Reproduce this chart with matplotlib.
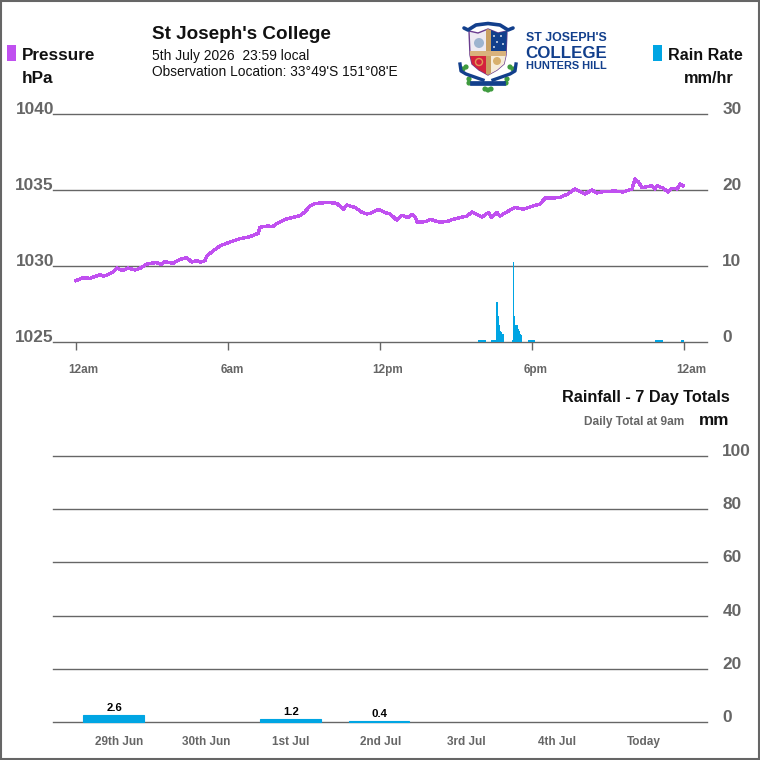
import matplotlib
matplotlib.use('Agg')
import matplotlib.pyplot as plt
from matplotlib.patches import Polygon, Rectangle, Circle
from matplotlib.transforms import ScaledTranslation

plt.rcParams['font.family'] = ['Liberation Sans', 'DejaVu Sans']

# barometer trace for the day
pressure_hours = [0.00, 0.28, 0.55, 0.95, 1.07, 1.18, 1.42, 1.62, 1.86, 2.05,
                  2.33, 2.53, 2.80, 3.16, 3.38, 3.51, 3.83, 4.11, 4.37, 4.57,
                  4.78, 4.90, 5.09, 5.17, 5.41, 5.68, 6.08, 6.47, 6.87, 7.19,
                  7.26, 7.58, 7.76, 7.94, 8.25, 8.53, 8.84, 9.04, 9.24, 9.44,
                  9.67, 9.91, 10.30, 10.55, 10.69, 11.01, 11.29, 11.48, 11.61, 11.96,
                  12.20, 12.40, 12.66, 12.87, 13.11, 13.25, 13.38, 13.47, 13.82, 13.98,
                  14.33, 14.63, 14.88, 15.44, 15.63, 16.02, 16.28, 16.41, 16.62, 16.74,
                  17.02, 17.33, 17.66, 18.04, 18.32, 18.52, 19.07, 19.42, 19.70, 20.09,
                  20.37, 20.56, 20.81, 21.28, 21.60, 21.95, 22.07, 22.19, 22.35, 22.74,
                  22.85, 22.94, 23.17, 23.38, 23.53, 23.73, 23.84, 23.96]
pressure_hpa = [1029.04, 1029.23, 1029.19, 1029.43, 1029.34, 1029.38, 1029.56, 1029.87, 1029.69, 1029.87,
                1029.74, 1029.85, 1030.13, 1030.23, 1030.11, 1030.28, 1030.18, 1030.44, 1030.55, 1030.26,
                1030.35, 1030.26, 1030.35, 1030.66, 1030.99, 1031.32, 1031.58, 1031.80, 1031.93, 1032.15,
                1032.55, 1032.63, 1032.59, 1032.81, 1033.06, 1033.19, 1033.31, 1033.57, 1033.95, 1034.12,
                1034.14, 1034.19, 1034.12, 1033.73, 1034.01, 1033.86, 1033.53, 1033.42, 1033.47, 1033.73,
                1033.52, 1033.42, 1033.03, 1033.34, 1033.18, 1033.40, 1033.24, 1032.88, 1032.92, 1033.07,
                1032.89, 1032.92, 1033.07, 1033.29, 1033.55, 1033.22, 1033.51, 1033.20, 1033.51, 1033.29,
                1033.57, 1033.86, 1033.73, 1033.95, 1034.08, 1034.47, 1034.49, 1034.74, 1035.07, 1034.74,
                1035.00, 1034.80, 1034.90, 1034.93, 1034.87, 1035.07, 1035.72, 1035.55, 1035.15, 1035.28,
                1035.07, 1035.28, 1035.13, 1034.87, 1035.11, 1035.07, 1035.39, 1035.28]

# rain rate as spans of constant rate
rain_start = [15.87, 16.38, 16.58, 16.66, 16.70, 16.74, 16.78, 16.82, 16.86, 17.21, 17.25, 17.29, 17.33,
              17.45, 17.49, 17.53, 17.57, 17.84, 22.86, 23.88]
rain_end = [16.19, 16.58, 16.66, 16.70, 16.74, 16.78, 16.82, 16.86, 16.90, 17.25, 17.29, 17.33, 17.45,
            17.49, 17.53, 17.57, 17.61, 18.12, 23.17, 24.00]
rain_rate = [0.3, 0.3, 5.3, 3.4, 2.3, 1.5, 1.3, 1.1, 1.0, 0.3, 10.5, 3.4, 2.3, 1.7, 1.4, 1.1, 0.9, 0.3, 0.3, 0.3]

hour_ticks = [0, 6, 12, 18, 24]
hour_labels = ['12am', '6am', '12pm', '6pm', '12am']
pressure_ticks = [1025, 1030, 1035, 1040]
rate_ticks = [0, 10, 20, 30]

days = ['29th Jun', '30th Jun', '1st Jul', '2nd Jul', '3rd Jul', '4th Jul', 'Today']
daily_rain = [2.6, 0, 1.2, 0.4, 0, 0, 0]
total_ticks = [0, 20, 40, 60, 80, 100]

PURPLE = '#c050f0'
BLUE = '#00a5e3'
GREY = '#666666'
NAVY = '#123f8c'
DPI = 100
SIZE = 760


def axes_px(left, top, right, bottom):
    return fig.add_axes([left / SIZE, 1 - bottom / SIZE, (right - left) / SIZE, (bottom - top) / SIZE])


def nudge(labels, dx, dy):
    # tick labels sit off their ticks, shift them by dx, dy pixels
    for lab, d in zip(labels, dx if isinstance(dx, list) else [dx] * len(labels)):
        lab.set_transform(lab.get_transform() + ScaledTranslation(d / DPI, dy / DPI, fig.dpi_scale_trans))


def put(x, y, s, **kw):
    fig.text(x / SIZE, 1 - y / SIZE, s, va='baseline', **kw)


def clean(ax):
    for name in ['top', 'left', 'right', 'bottom']:
        ax.spines[name].set_visible(False)
    ax.patch.set_alpha(0)


def draw_logo(ax):
    shield = Polygon([(469, 31), (478, 33), (488, 29), (498, 33), (507, 31), (506, 55), (504, 64),
                      (497, 70), (488, 75), (479, 70), (472, 64), (470, 55)],
                     closed=True, fc='#eeeaf2', ec='#6a3d8f', lw=1, zorder=3)
    ax.add_patch(shield)
    quarters = [(489, 29, 20, 24, '#123f8c'), (467, 53, 21, 24, '#d4213d'), (489, 53, 20, 24, '#f6ecd9')]
    for x, y, w, h, c in quarters:
        r = Rectangle((x, y), w, h, fc=c, ec='none', zorder=3.1)
        ax.add_patch(r)
        r.set_clip_path(shield)
    cross = [Rectangle((486, 28), 5, 48, fc='#c9a063', ec='none', zorder=3.2),
             Rectangle((468, 51), 40, 5, fc='#d9b27c', ec='none', zorder=3.2)]
    for r in cross:
        ax.add_patch(r)
        r.set_clip_path(shield)
    # emblems in the quarters
    for x, y in [(494, 36), (501, 36), (497, 42), (503, 44), (494, 47)]:
        ax.add_patch(Circle((x, y), 0.9, fc='white', ec='none', zorder=3.3))
    ax.add_patch(Circle((479, 43), 5, fc='#9db4cf', ec='none', zorder=3.3))
    ax.add_patch(Circle((479, 62), 3.5, fc='none', ec='#e09a55', lw=1, zorder=3.3))
    ax.add_patch(Circle((497, 61), 4, fc='#d8b06c', ec='none', zorder=3.3))
    # scrolls round the shield
    ax.plot([464, 468, 476, 488, 500, 508, 513], [28, 30, 25, 23.5, 25, 30, 28], color=NAVY, lw=2.6,
            solid_capstyle='round', zorder=3)
    ax.plot([460, 461, 466, 483], [64, 71, 74, 80], color=NAVY, lw=2.4, zorder=3.4)
    ax.plot([516, 515, 510, 493], [64, 71, 74, 80], color=NAVY, lw=2.4, zorder=3.4)
    ax.plot([472, 503], [83, 83], color=NAVY, lw=3.4, zorder=3.4)
    for x, y in [(466, 67), (510, 67), (469, 83), (506, 83), (488, 90), (463, 69), (513, 69),
                 (469, 79), (507, 79), (485, 89), (491, 89)]:
        ax.add_patch(Circle((x, y), 2.6, fc='#3f9b3f', ec='none', zorder=2.9))
    put(526, 41, "ST JOSEPH'S", color=NAVY, fontsize=8.9, fontweight='bold')
    put(525, 58, 'COLLEGE', color=NAVY, fontsize=12.2, fontweight='bold')
    put(526, 69, 'HUNTERS HILL', color=NAVY, fontsize=7.9, fontweight='bold')


fig = plt.figure(figsize=(SIZE / DPI, SIZE / DPI), dpi=DPI, facecolor='white')

# pressure with rain rate on the second scale
ax = axes_px(53, 114, 707, 342)
clean(ax)
ax.set_xlim(-0.908, 24.91)
ax.set_ylim(1025, 1040)
ax.set_yticks(pressure_ticks)
ax.grid(axis='y', color=GREY, lw=1, clip_on=False)
ax.set_axisbelow(True)
ax.tick_params(axis='y', length=0, pad=0, labelsize=12.4, labelcolor=GREY)
ax.set_xticks(hour_ticks)
ax.set_xticklabels(hour_labels)
ax.tick_params(axis='x', length=5.5, width=1, color=GREY, pad=10.5, labelsize=8.5, labelcolor=GREY)
for lab in ax.get_xticklabels() + ax.get_yticklabels():
    lab.set_fontweight('bold')
nudge(ax.get_yticklabels(), 1, 6)
nudge(ax.get_xticklabels(), [7, 4, 8, 4, 7], 0)
ax.plot(pressure_hours, pressure_hpa, color=PURPLE, lw=1.7, antialiased=False, zorder=4)

ax2 = ax.twinx()
clean(ax2)
ax2.set_ylim(0, 30)
ax2.set_yticks(rate_ticks)
ax2.tick_params(axis='y', length=0, pad=11, labelsize=12.4, labelcolor=GREY)
for lab in ax2.get_yticklabels():
    lab.set_fontweight('bold')
nudge(ax2.get_yticklabels(), 0, 6)
ax2.bar(rain_start, rain_rate, width=[e - s for s, e in zip(rain_start, rain_end)], align='edge',
        color=BLUE, lw=0, zorder=3)

# seven day totals
ax3 = axes_px(53, 456, 707, 722)
clean(ax3)
ax3.set_xlim(-0.684, 6.706)
ax3.set_ylim(0, 100)
ax3.yaxis.tick_right()
ax3.set_yticks(total_ticks)
ax3.grid(axis='y', color=GREY, lw=1, clip_on=False)
ax3.set_axisbelow(True)
ax3.tick_params(axis='y', length=0, pad=11, labelsize=12.4, labelcolor=GREY)
ax3.set_xticks(range(len(days)))
ax3.set_xticklabels(days)
ax3.tick_params(axis='x', length=0, pad=10, labelsize=8.5, labelcolor=GREY)
for lab in ax3.get_xticklabels() + ax3.get_yticklabels():
    lab.set_fontweight('bold')
nudge(ax3.get_yticklabels(), 0, 6)
nudge(ax3.get_xticklabels(), [5.5, 4, 0.5, 2, -1.5, 1, -0.5], 0)
for i, v in enumerate(daily_rain):
    if v > 0:
        ax3.bar(i, v, width=0.68, color=BLUE, ec=BLUE, lw=0.8, clip_on=False, zorder=3)
        ax3.annotate(f'{v:.1f}', (i, v), xytext=(0.5, 2), textcoords='offset pixels', ha='center', va='bottom',
                     fontsize=8.2, fontweight='bold', color='black')

# page furniture drawn in pixel coordinates
over = fig.add_axes([0, 0, 1, 1])
over.set_xlim(0, SIZE)
over.set_ylim(SIZE, 0)
over.axis('off')
over.patch.set_alpha(0)
over.add_patch(Rectangle((1, 1), SIZE - 2, SIZE - 2, fc='none', ec=GREY, lw=1.5))
over.add_patch(Rectangle((7, 45), 9, 16, fc=PURPLE, ec='none'))
over.add_patch(Rectangle((653, 45), 9, 16, fc=BLUE, ec='none'))
draw_logo(over)

put(152, 39, "St Joseph's College", fontsize=13.6, fontweight='bold', color='#111111')
put(152, 60, '5th July 2026  23:59 local', fontsize=9.9, color='#111111')
put(152, 76, "Observation Location: 33°49'S 151°08'E", fontsize=9.9, color='#111111')
put(22, 60, 'Pressure', fontsize=12.3, fontweight='bold', color='#111111')
put(22, 83, 'hPa', fontsize=12.3, fontweight='bold', color='#111111')
put(668, 60, 'Rain Rate', fontsize=11.6, fontweight='bold', color='#111111')
put(684, 83, 'mm/hr', fontsize=11.7, fontweight='bold', color='#111111')
put(562, 402, 'Rainfall - 7 Day Totals', fontsize=11.7, fontweight='bold', color='#111111')
put(584, 425, 'Daily Total at 9am', fontsize=8.6, fontweight='bold', color=GREY)
put(699, 425, 'mm', fontsize=12.3, fontweight='bold', color='#111111')

fig.savefig('out.png', dpi=DPI)
